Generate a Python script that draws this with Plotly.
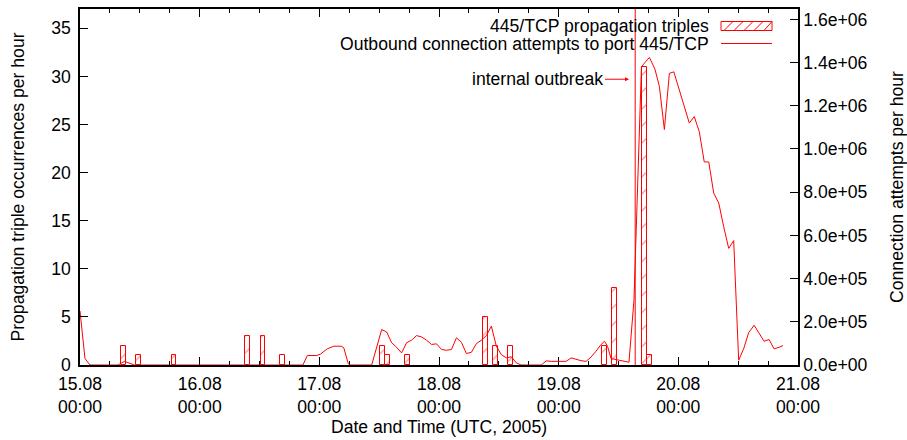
import pandas as pd
import plotly.graph_objects as go

START = pd.Timestamp("2005-08-15 00:00")

# Propagation triples (bars, left axis): hour offset from 15.08 00:00 and count
bar_hours = [8.8, 11.8, 18.85, 33.6, 36.7, 40.7, 60.6, 61.6, 65.6, 81.4, 83.4, 86.4,
             105.2, 107.2, 113.2, 114.3]
bar_counts = [2, 1, 1, 3, 3, 1, 2, 1, 1, 5, 2, 2, 2, 8, 31, 1]

# Outbound connection attempts (line, right axis)
line_hours = [0, 1, 2, 7.6, 8.9, 10.9, 44.7, 45.6, 47.5, 48.2, 49.6, 50.9, 52.4, 52.9, 53.8, 54.1,
              58.5, 60.5, 61.5, 62.5, 63.5, 64.5, 65.5, 66.5, 67.5, 68.5, 69.5, 70.5, 71.5,
              72.5, 73.5, 74.5, 75.5, 76.5, 77.5, 78.5, 79.5, 80.5, 81.5, 82.5, 83.5, 84.5,
              85.5, 86.5, 87.5, 88.5, 92.5, 93.5, 94.5, 95.5, 96.5, 97.5, 98.5, 99.5, 100.5,
              101.5, 102.5, 103.5, 104.5, 105.2, 105.8, 106.5, 107.6, 108.9, 110.1, 111.1,
              112.6, 113.3, 114.2, 115.3, 116.2, 117.2, 118.2, 119.1, 120.2, 121.2, 122.2,
              123.2, 124.2, 125.2, 126.1, 127.1, 128.1, 129.1, 130.1, 131.1, 132.1, 133.1,
              134.1, 135.2, 136.2, 137.2, 138.2, 139.2, 140.2, 141.0]
line_values = [2.5e5, 3.0e4, 0, 0, 1.7e4, 0, 0, 4.4e4, 4.4e4, 5.0e4, 7.5e4, 8.7e4, 8.7e4, 8.0e4, 6e3, 0,
               0, 1.64e5, 1.53e5, 1.03e5, 8.2e4, 5.6e4, 1.03e5, 1.15e5, 1.36e5, 1.30e5, 1.15e5, 9.5e4,
               9.8e4, 7.2e4, 6.8e4, 7.2e4, 1.26e5, 1.05e5, 5.3e4, 5.9e4, 9.9e4, 1.15e5, 1.36e5,
               1.80e5, 8.7e4, 4.8e4, 3.3e4, 3.8e4, 1.0e4, 0, 0, 1.9e4, 1.7e4, 1.7e4, 1.7e4, 1.7e4,
               3.3e4, 2.5e4, 2.0e4, 1.7e4, 3.7e4, 6.4e4, 9.5e4, 1.10e5, 8.7e4, 3.0e4, 2.5e4, 1.7e4,
               1.3e4, 3.0e5, 1.38e6, 1.40e6, 1.424e6, 1.37e6, 1.29e6, 1.09e6, 1.35e6, 1.357e6,
               1.27e6, 1.19e6, 1.12e6, 1.15e6, 1.08e6, 9.4e5, 9.4e5, 7.95e5, 7.5e5, 6.4e5, 5.4e5,
               5.76e5, 2.2e4, 7.5e4, 1.49e5, 1.84e5, 1.49e5, 1.10e5, 1.18e5, 7.5e4, 8.2e4, 9.0e4]

outbreak_hour = 111.35
annot_hour = 110.1
annot_level = 29.7

y2_tickvals = [0, 2e5, 4e5, 6e5, 8e5, 1e6, 1.2e6, 1.4e6, 1.6e6]
y2_ticktext = ["0.0e+00", "2.0e+05", "4.0e+05", "6.0e+05", "8.0e+05", "1.0e+06", "1.2e+06",
               "1.4e+06", "1.6e+06"]

legend_labels = ["445/TCP propagation triples", "Outbound connection attempts to port 445/TCP"]


def hours_to_time(hs):
    return [START + pd.Timedelta(hours=h) for h in hs]


W, H = 907, 440
L, R, T, B = 80, 798, 9, 365
FONT = "Liberation Sans, Arial, sans-serif"
FS = 17.6


def px(x):
    return (x - L) / (R - L)


def py(y):
    return (B - y) / (B - T)


fig = go.Figure()
fig.add_trace(go.Bar(
    x=hours_to_time(bar_hours), y=bar_counts, width=3600000,
    marker=dict(color="white", line=dict(color="red", width=1),
                pattern=dict(shape="/", fgcolor="red", bgcolor="white", size=12, solidity=0.1)),
    name=legend_labels[0], showlegend=False, yaxis="y"))
fig.add_trace(go.Scatter(
    x=hours_to_time(line_hours), y=line_values, mode="lines",
    line=dict(color="red", width=1), name=legend_labels[1], showlegend=False, yaxis="y2"))

# vertical outbreak marker
t_out = START + pd.Timedelta(hours=outbreak_hour)
fig.add_shape(type="line", xref="x", yref="paper", x0=t_out, x1=t_out, y0=0, y1=1,
              line=dict(color="red", width=1))

fig.add_annotation(x=START + pd.Timedelta(hours=annot_hour), y=annot_level, xref="x", yref="y",
                   text="internal outbreak", showarrow=True, arrowhead=2, arrowsize=0.8,
                   arrowwidth=1, arrowcolor="red", ax=-24, ay=0, xanchor="right",
                   font=dict(family=FONT, size=FS, color="black"))

# gnuplot-style legend (text right-aligned, key sample on the right)
for i, (lab, yc) in enumerate(zip(legend_labels, [25.5, 44])):
    fig.add_annotation(x=px(711), y=py(yc), xref="paper", yref="paper", text=lab,
                       showarrow=False, xanchor="right", yanchor="middle",
                       font=dict(family=FONT, size=FS, color="black"))
# hatched key box
x0k, x1k, y0k, y1k = 721, 772, 21.5, 30.5
fig.add_shape(type="rect", xref="paper", yref="paper", x0=px(x0k), x1=px(x1k), y0=py(y1k), y1=py(y0k),
              line=dict(color="red", width=1), fillcolor="white")
for xs in [724, 734, 744, 754, 764]:
    fig.add_shape(type="line", xref="paper", yref="paper", x0=px(xs), y0=py(y1k),
                  x1=px(min(xs + 9, x1k)), y1=py(y0k), line=dict(color="red", width=1))
fig.add_shape(type="line", xref="paper", yref="paper", x0=px(721), x1=px(772), y0=py(43.5),
              y1=py(43.5), line=dict(color="red", width=1))

axis_font = dict(family=FONT, size=FS, color="black")
fig.update_layout(
    width=W, height=H,
    margin=dict(l=L, r=W - R, t=T, b=H - B, autoexpand=False),
    paper_bgcolor="white", plot_bgcolor="white",
    font=axis_font,
    showlegend=False,
    bargap=0,
    xaxis=dict(type="date", range=[START, START + pd.Timedelta(days=6)],
               tickformat="%d.%m<br>%H:%M", dtick=86400000, tick0=START,
               ticks="inside", ticklen=8, tickcolor="black", tickwidth=1,
               minor=dict(dtick=6 * 3600000, ticks="inside", ticklen=4, tickcolor="black"),
               showline=True, linecolor="black", linewidth=1.5, mirror="ticks",
               showgrid=False, zeroline=False, layer="below traces", automargin=False,
               ticklabelstandoff=2,
               title=dict(text="Date and Time (UTC, 2005)", font=axis_font, standoff=5),
               tickfont=axis_font),
    yaxis=dict(range=[0, 37], dtick=5, ticks="inside", ticklen=8, tickcolor="black",
               showline=True, linecolor="black", linewidth=1.5, showgrid=False, zeroline=False,
               ticklabelstandoff=4, automargin=False,
               title=dict(text="Propagation triple occurrences per hour", font=axis_font, standoff=22),
               tickfont=axis_font),
    yaxis2=dict(overlaying="y", side="right", range=[0, 1.648e6], tickvals=y2_tickvals,
                ticktext=y2_ticktext, ticks="inside", ticklen=8, tickcolor="black",
                showline=True, linecolor="black", linewidth=1.5, showgrid=False, zeroline=False,
                automargin=False,
                title=dict(text="Connection attempts per hour", font=axis_font, standoff=24),
                tickfont=axis_font),
)

fig.write_html("out.html")
